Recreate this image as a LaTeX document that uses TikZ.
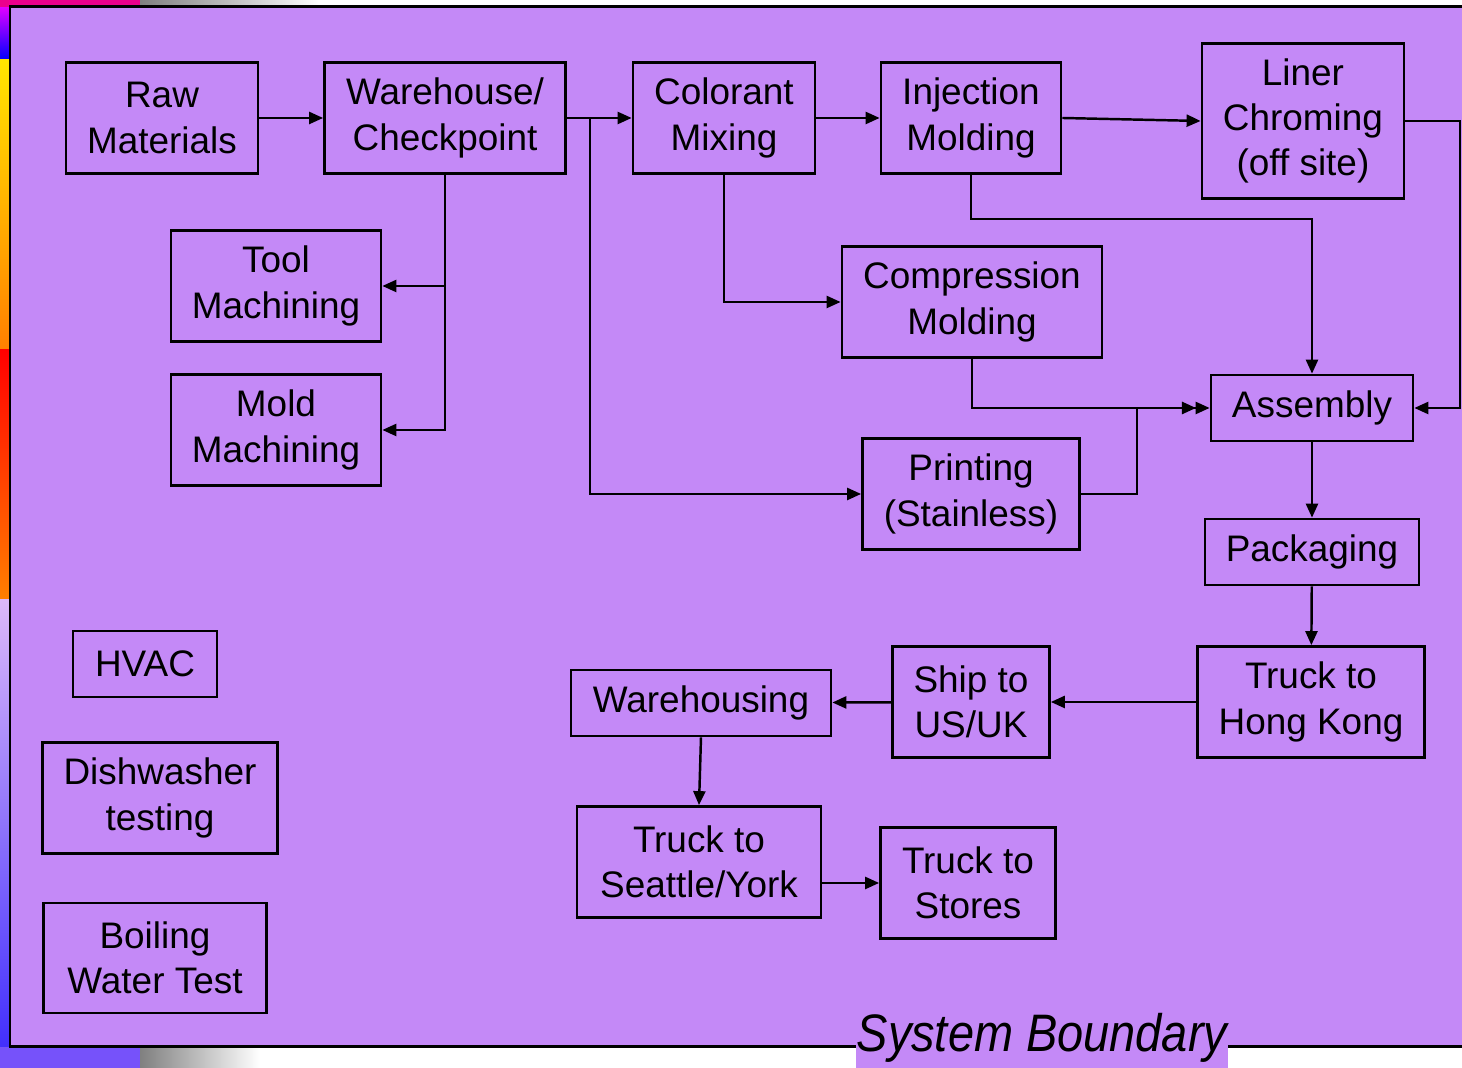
\documentclass[tikz,border=0pt]{standalone}
\usepackage{fontspec}
\setmainfont{Liberation Sans}
\newfontfamily\bndfont[FakeStretch=0.89]{Liberation Sans}
\usetikzlibrary{arrows.meta}
\definecolor{lilac}{RGB}{196,137,247}
\tikzset{
  stepbox/.style={draw, line width=0.75pt, align=center, inner sep=0pt,
    font=\fontsize{10.5}{12.9}\selectfont},
  link/.style={line width=0.7pt, -{Triangle[length=1.4mm,width=1.2mm]}},
}
\begin{document}
\begin{tikzpicture}
    [x=0.01cm,y=-0.01cm]
    \useasboundingbox (0,0) rectangle (1462,1068);
    % page edge and system boundary
    \fill[white] (0,0) rectangle (1462,1068);
    \shade[top color=magenta, bottom color=blue] (0,0) rectangle (10,60);
    \shade[top color=yellow!80!orange, bottom color=orange] (0,60) rectangle (10,350);
    \shade[top color=red, bottom color=orange] (0,350) rectangle (10,600);
    \shade[top color=lilac!60!white, bottom color=blue!70!lilac] (0,600) rectangle (10,1068);
    \fill[magenta] (0,0) rectangle (140,7);
    \shade[left color=gray, right color=white] (140,0) rectangle (320,7);
    \fill[blue!40!lilac] (0,1047) rectangle (140,1068);
    \shade[left color=gray, right color=white] (140,1047) rectangle (260,1068);
    \draw[fill=lilac, line width=0.85pt] (10,7) rectangle (1480,1047);
    \node (bnd) at (1042,1038) [fill=lilac, inner sep=0pt, minimum width=3.72cm,
      minimum height=0.6cm, font=\bndfont\itshape\fontsize{15}{16}\selectfont] {System Boundary};
    % process boxes
    \node (raw) at (162,118) [stepbox, minimum width=1.92cm, minimum height=1.11cm] {Raw\\Materials};
    \node (wh) at (445,118) [stepbox, minimum width=2.41cm, minimum height=1.11cm] {Warehouse/\\Checkpoint};
    \node (col) at (724,118) [stepbox, minimum width=1.82cm, minimum height=1.11cm] {Colorant\\Mixing};
    \node (inj) at (971,118) [stepbox, minimum width=1.80cm, minimum height=1.11cm] {Injection\\Molding};
    \node (liner) at (1303,121) [stepbox, minimum width=2.02cm, minimum height=1.55cm] {Liner\\Chroming\\(off site)};
    \node (tool) at (276,286) [stepbox, minimum width=2.10cm, minimum height=1.11cm] {Tool\\Machining};
    \node (mold) at (276,430) [stepbox, minimum width=2.10cm, minimum height=1.11cm] {Mold\\Machining};
    \node (comp) at (972,302) [stepbox, minimum width=2.60cm, minimum height=1.11cm] {Compression\\Molding};
    \node (assy) at (1312,408) [stepbox, minimum width=2.02cm, minimum height=0.66cm] {Assembly};
    \node (print) at (971,494) [stepbox, minimum width=2.17cm, minimum height=1.11cm] {Printing\\(Stainless)};
    \node (pack) at (1312,552) [stepbox, minimum width=2.14cm, minimum height=0.66cm] {Packaging};
    \node (thk) at (1311,702) [stepbox, minimum width=2.27cm, minimum height=1.11cm] {Truck to\\Hong Kong};
    \node (ship) at (971,702) [stepbox, minimum width=1.57cm, minimum height=1.11cm] {Ship to\\US/UK};
    \node (whs) at (701,703) [stepbox, minimum width=2.60cm, minimum height=0.66cm] {Warehousing};
    \node (tsea) at (699,862) [stepbox, minimum width=2.44cm, minimum height=1.11cm] {Truck to\\Seattle/York};
    \node (tsto) at (968,883) [stepbox, minimum width=1.75cm, minimum height=1.11cm] {Truck to\\Stores};
    \node (hvac) at (145,664) [stepbox, minimum width=1.44cm, minimum height=0.66cm] {HVAC};
    \node (dish) at (160,798) [stepbox, minimum width=2.35cm, minimum height=1.11cm] {Dishwasher\\testing};
    \node (boil) at (155,958) [stepbox, minimum width=2.23cm, minimum height=1.10cm] {Boiling\\Water Test};
    % junctions
    \coordinate (split) at (590,118);
    \coordinate (linerout) at (1460,121);
    \coordinate (assyin) at (1196,408);
    \coordinate (printup) at (1137,494);
    % flows
    \draw [link] (raw) to (wh);
    \draw [link] (wh) to (col);
    \draw [link] (split) |- (print.west);
    \draw [link] (wh.south) |- (tool.east);
    \draw [link] (wh.south) |- (mold.east);
    \draw [link] (col) to (inj);
    \draw [link] (inj.east) to (liner.west);
    \draw [link] (col.south) |- (comp.west);
    \draw [link] (inj.south) -- ++(0,44) -| (assy.north);
    \draw [link] (liner.east) -- (linerout) |- (assy.east);
    \draw [link] (comp.south) |- (assyin);
    \draw [link] (print.east) -- (printup) |- (assy.west);
    \draw [link] (assy) to (pack);
    \draw [link] (pack) to (thk);
    \draw [link] (thk) to (ship);
    \draw [link] (ship) to (whs);
    \draw [link] (whs.south) to (tsea.north);
    \draw [link] (tsea.east |- tsto.west) to (tsto.west);
  \end{tikzpicture}
\end{document}
